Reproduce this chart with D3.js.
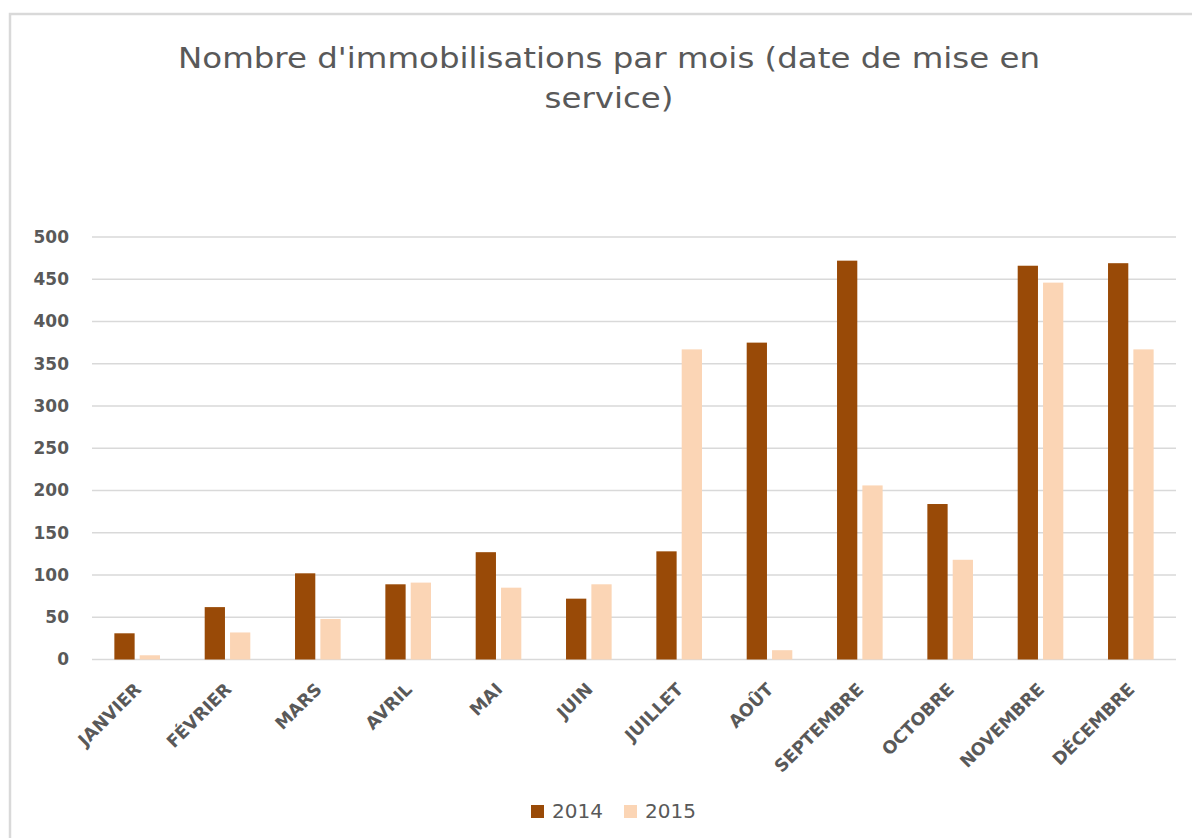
<!DOCTYPE html>
<html>
<head>
<meta charset="utf-8">
<script src="https://cdn.jsdelivr.net/npm/d3@7"></script>
<style>
  html, body { margin: 0; padding: 0; background: #ffffff; }
  svg { display: block; }
</style>
</head>
<body>
<svg id="chart" width="1192" height="838"></svg>
<script>
// Monthly counts of fixed assets by commissioning date
const months = ["JANVIER", "FÉVRIER", "MARS", "AVRIL", "MAI", "JUIN",
                "JUILLET", "AOÛT", "SEPTEMBRE", "OCTOBRE", "NOVEMBRE", "DÉCEMBRE"];
const years = ["2014", "2015"];
const values2014 = [31, 62, 102, 89, 127, 72, 128, 375, 472, 184, 466, 469];
const values2015 = [5, 32, 48, 91, 85, 89, 367, 11, 206, 118, 446, 367];
const yTicks = [0, 50, 100, 150, 200, 250, 300, 350, 400, 450, 500];
const titleLines = ["Nombre d'immobilisations par mois (date de mise en", "service)"];

const colors = { "2014": "#994a07", "2015": "#fbd5b5" };
const textGray = "#595959";
const gridGray = "#d9d9d9";

const svg = d3.select("#chart");
const W = 1192, H = 838;
const plot = { left: 92, right: 1176, top: 237, bottom: 659.5 };

const rows = months.map((m, i) => ({ month: m, "2014": values2014[i], "2015": values2015[i] }));

// Outer frame (left and top edges of the chart area)
svg.append("path")
  .attr("d", `M10,${H} L10,14 L${W},14`)
  .attr("fill", "none")
  .attr("stroke", gridGray)
  .attr("stroke-width", 2.5);

// Title, slightly widened type
svg.append("g")
  .attr("transform", "translate(609,0) scale(1.12,1)")
  .selectAll("text")
  .data(titleLines)
  .join("text")
  .attr("x", 0)
  .attr("y", (d, i) => 68 + i * 40)
  .attr("text-anchor", "middle")
  .attr("font-family", "DejaVu Sans, sans-serif")
  .attr("font-size", 29)
  .attr("fill", textGray)
  .text(d => d);

// Scales
const x = d3.scaleBand().domain(months).range([plot.left, plot.right]).paddingInner(0).paddingOuter(0);
const groupW = x.bandwidth() * 0.505;
const xs = d3.scaleBand().domain(years).range([0, groupW]).paddingInner(0.2).paddingOuter(0);
const y = d3.scaleLinear().domain([0, 500]).range([plot.bottom, plot.top]);

// Horizontal gridlines
svg.append("g").selectAll("line")
  .data(yTicks)
  .join("line")
  .attr("x1", plot.left)
  .attr("x2", plot.right)
  .attr("y1", d => y(d))
  .attr("y2", d => y(d))
  .attr("stroke", gridGray)
  .attr("stroke-width", 1.5);

// Y axis labels
const yAxis = d3.axisLeft(y).tickValues(yTicks).tickSize(0).tickPadding(0);
const yg = svg.append("g")
  .attr("transform", `translate(69,0)`)
  .call(yAxis);
yg.select(".domain").remove();
yg.selectAll("text")
  .attr("font-family", "DejaVu Sans, sans-serif")
  .attr("font-weight", "bold")
  .attr("font-size", 17)
  .attr("fill", textGray);

// Bars
const groups = svg.append("g").selectAll("g")
  .data(rows)
  .join("g")
  .attr("transform", d => `translate(${x(d.month) + (x.bandwidth() - groupW) / 2},0)`);

groups.selectAll("rect")
  .data(d => years.map(k => ({ key: k, value: d[k] })))
  .join("rect")
  .attr("x", d => xs(d.key))
  .attr("width", xs.bandwidth())
  .attr("y", d => y(d.value))
  .attr("height", d => y(0) - y(d.value))
  .attr("fill", d => colors[d.key]);

// X axis labels, rotated
const xAxis = d3.axisBottom(x).tickSize(0).tickPadding(0);
const xg = svg.append("g")
  .attr("transform", `translate(0,${plot.bottom})`)
  .call(xAxis);
xg.select(".domain").remove();
xg.selectAll("text")
  .attr("font-family", "DejaVu Sans, sans-serif")
  .attr("font-weight", "bold")
  .attr("font-size", 17.5)
  .attr("fill", textGray)
  .attr("text-anchor", "end")
  .attr("dy", null)
  .attr("y", 0)
  .attr("transform", "translate(5,31) rotate(-45)");

// Legend
const legendX = { "2014": 531, "2015": 624 };
const legend = svg.append("g").selectAll("g")
  .data(years)
  .join("g")
  .attr("transform", d => `translate(${legendX[d]},805)`);
legend.append("rect")
  .attr("width", 13)
  .attr("height", 13)
  .attr("fill", d => colors[d]);
legend.append("text")
  .attr("x", 21)
  .attr("y", 13)
  .attr("font-family", "DejaVu Sans, sans-serif")
  .attr("font-size", 20)
  .attr("fill", textGray)
  .text(d => d);
</script>
</body>
</html>
